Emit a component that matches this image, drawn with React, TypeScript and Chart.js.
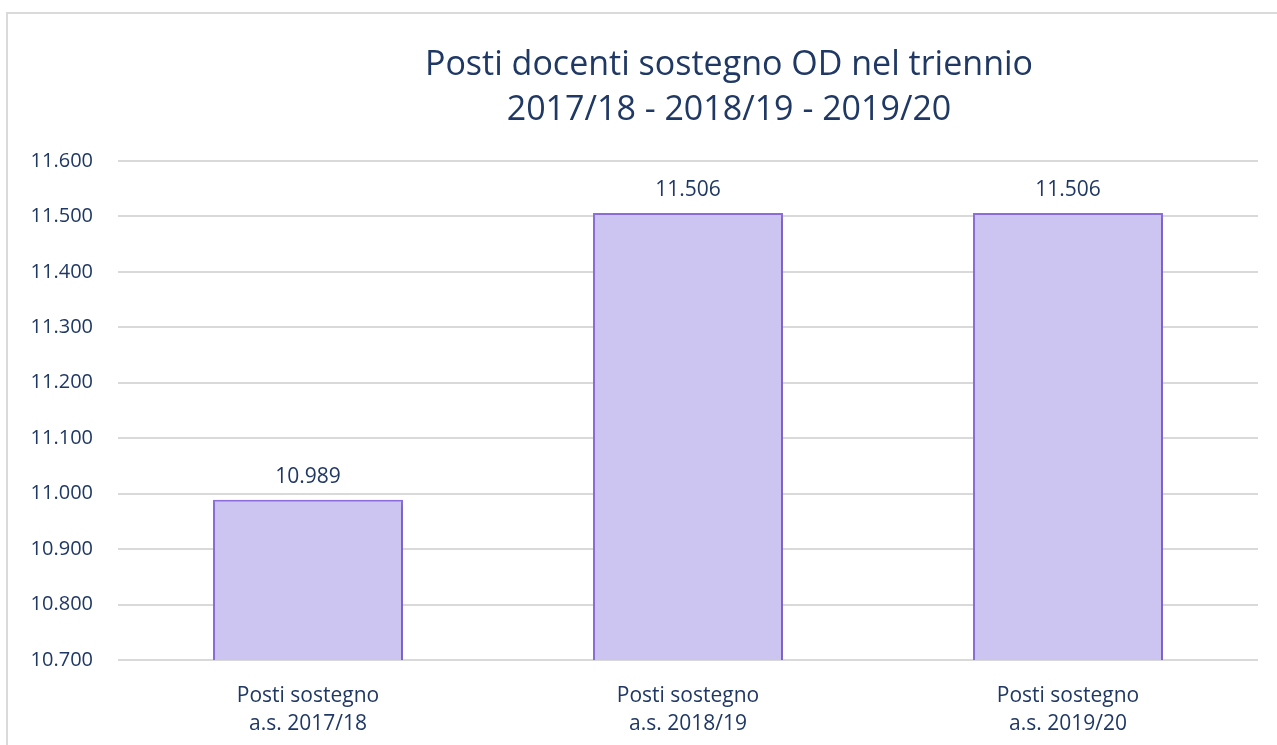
import React, { useEffect, useRef } from "react";
import { Chart, registerables } from "chart.js";

Chart.register(...registerables);

const categories: string[][] = [
  ["Posti sostegno", "a.s. 2017/18"],
  ["Posti sostegno", "a.s. 2018/19"],
  ["Posti sostegno", "a.s. 2019/20"],
];
const values: number[] = [10989, 11506, 11506];
const titleLines: string[] = [
  "Posti docenti sostegno OD nel triennio",
  "2017/18 - 2018/19 - 2019/20",
];
const yMin = 10700;
const yMax = 11600;
const yStep = 100;

const TEXT = "#1f3864";
const FONT = "'Open Sans', 'Noto Sans', sans-serif";

function fmt(n: number): string {
  const s = Math.round(n).toString();
  return s.replace(/\B(?=(\d{3})+(?!\d))/g, ".");
}

const valueLabels = {
  id: "valueLabels",
  afterDatasetsDraw(chart: any) {
    const ctx = chart.ctx;
    const meta = chart.getDatasetMeta(0);
    ctx.save();
    ctx.fillStyle = TEXT;
    ctx.font = `21px ${FONT}`;
    ctx.textAlign = "center";
    ctx.textBaseline = "alphabetic";
    meta.data.forEach((el: any, i: number) => {
      ctx.fillText(fmt(values[i]), el.x, el.y - 17);
    });
    ctx.restore();
  },
};

const barShadow = {
  id: "barShadow",
  beforeDatasetDraw(chart: any) {
    const ctx = chart.ctx;
    ctx.save();
    ctx.shadowColor = "rgba(0,0,0,0.18)";
    ctx.shadowBlur = 6;
    ctx.shadowOffsetX = 2;
    ctx.shadowOffsetY = 2;
  },
  afterDatasetDraw(chart: any) {
    chart.ctx.restore();
  },
};

export default function App() {
  const ref = useRef<HTMLCanvasElement | null>(null);

  useEffect(() => {
    if (!ref.current) return;
    const chart = new Chart(ref.current, {
      type: "bar",
      data: {
        labels: categories,
        datasets: [
          {
            data: values,
            backgroundColor: "#cdc5f1",
            borderColor: "#8e70e0",
            borderWidth: 2,
            borderSkipped: false,
            categoryPercentage: 1,
            barPercentage: 0.5,
          },
        ],
      },
      options: {
        animation: false,
        responsive: false,
        layout: { padding: { left: 0, right: 19, top: 161, bottom: 0 } },
        plugins: {
          legend: { display: false },
          title: { display: false },
          tooltip: { enabled: false },
        },
        scales: {
          x: {
            grid: { display: false },
            border: { display: false },
            ticks: {
              color: TEXT,
              font: { family: FONT, size: 21, lineHeight: 1.33 },
              padding: 14,
              maxRotation: 0,
            },
            afterFit(scale: any) {
              scale.height = 85;
            },
          },
          y: {
            min: yMin,
            max: yMax,
            grid: { color: "#d9d9d9", lineWidth: 2, drawTicks: false },
            border: { display: false },
            ticks: {
              stepSize: yStep,
              color: TEXT,
              font: { family: FONT, size: 20 },
              padding: 25,
              callback: (v: any) => fmt(Number(v)),
            },
            afterFit(scale: any) {
              scale.width = 118;
            },
          },
        },
      },
      plugins: [barShadow, valueLabels],
    });
    return () => chart.destroy();
  }, []);

  return (
    <div
      style={{
        position: "absolute",
        left: 0,
        top: 0,
        width: 1277,
        height: 745,
        overflow: "hidden",
        background: "#ffffff",
      }}
    >
      <div
        style={{
          position: "absolute",
          left: 6,
          top: 12,
          width: 1277,
          height: 745,
          borderTop: "2px solid #dadada",
          borderLeft: "2px solid #dadada",
        }}
      />
      <canvas
        ref={ref}
        width={1277}
        height={745}
        style={{ position: "absolute", left: 0, top: 0 }}
      />
      <div
        style={{
          position: "absolute",
          left: 200,
          width: 1058,
          top: 40,
          textAlign: "center",
          fontFamily: FONT,
          fontSize: 34,
          lineHeight: "45px",
          color: TEXT,
          fontVariantLigatures: "none",
        }}
      >
        {titleLines.map((t, i) => (
          <div key={i}>{t}</div>
        ))}
      </div>
    </div>
  );
}
